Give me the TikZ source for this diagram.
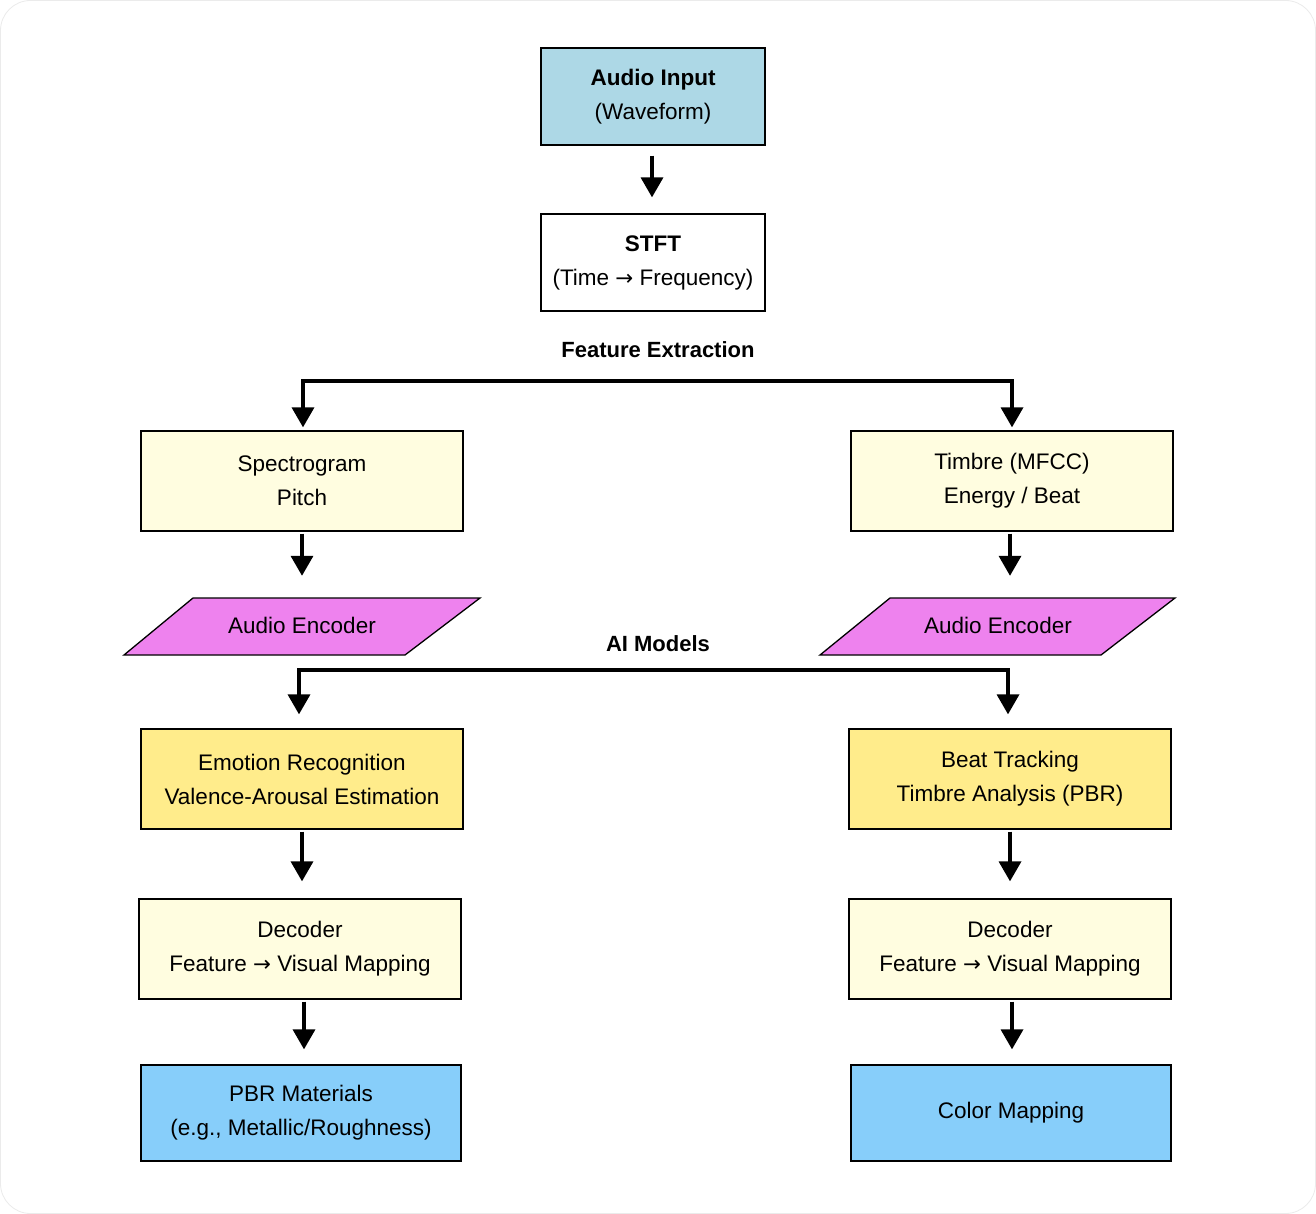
\documentclass[tikz,border=0pt]{standalone}
\usepackage{fontspec}
\setmainfont{Liberation Sans}
\newfontfamily\arrowfont[Scale=0.95]{DejaVu Sans}
\newcommand{\rarr}{{\arrowfont →}}
\usetikzlibrary{arrows.meta}
\definecolor{inblue}{HTML}{ADD8E6}
\definecolor{featyel}{HTML}{FFFDE0}
\definecolor{aiyel}{HTML}{FFEC8B}
\definecolor{encvio}{HTML}{EE82EE}
\definecolor{outblue}{HTML}{87CEFA}
\begin{document}
\begin{tikzpicture}[x=1pt,y=-1pt,
  txt/.style={font=\fontsize{22.5}{34}\selectfont},
  box/.style={txt, draw=black, line width=1.3pt, inner sep=0pt, align=center},
  bigbox/.style={box, minimum width=322pt, minimum height=100pt},
  arr/.style={line width=3.5pt, -{Triangle[width=22pt,length=20pt]}},
  dbl/.style={line width=3.5pt, line join=miter, {Triangle[width=22pt,length=20pt]}-{Triangle[width=22pt,length=20pt]}},
  lbl/.style={font=\fontsize{22}{26}\selectfont\bfseries, inner sep=0pt}]
\useasboundingbox (0,0) rectangle (1316,1214);
\draw[draw=black!8, fill=white, line width=0.8pt, rounded corners=30pt] (0.5,0.5) rectangle (1315.5,1213.5);

% top
\node[box, fill=inblue, minimum width=224pt, minimum height=97pt] (ain) at (653,96.5) {\textbf{Audio Input}\\(Waveform)};
\node[box, fill=white, minimum width=224pt, minimum height=97pt] (stft) at (653,262.5) {\textbf{STFT}\\(Time \rarr{} Frequency)};
\draw[arr, shorten <=10pt, shorten >=16pt] ([xshift=-1pt]ain.south) -- ([xshift=-1pt]stft.north);

\node[lbl] (fxlbl) at (658,350) {Feature Extraction};
\coordinate (fe) at (658,381);

% feature boxes
\node[bigbox, fill=featyel] (spec) at (302,481) {Spectrogram\\Pitch};
\node[bigbox, fill=featyel] (tim) at (1012,481) {Timbre (MFCC)\\Energy / Beat};
\draw[dbl, shorten <=3pt, shorten >=3pt] ([xshift=1pt]spec.north) |- (fe) -| (tim.north);

% encoders
\draw[fill=encvio, line width=1.3pt, line join=miter] (193,598) -- (480,598) -- (405,655) -- (124,655) -- cycle;
\draw[fill=encvio, line width=1.3pt, line join=miter] (890,598) -- (1175,598) -- (1101,655) -- (820,655) -- cycle;
\node[txt, minimum height=57pt, inner sep=0pt] (encL) at (302,625.5) {Audio Encoder};
\node[txt, minimum height=57pt, inner sep=0pt] (encR) at (998,625.5) {Audio Encoder};
\draw[arr, shorten <=2pt, shorten >=21pt] (spec.south) -- (spec.south |- encL.north);
\draw[arr, shorten <=2pt, shorten >=21pt] ([xshift=-2pt]tim.south) -- ([xshift=-2pt]tim.south |- encR.north);

\node[lbl] (ailbl) at (658,644) {AI Models};
\coordinate (ai) at (658,670);

% AI model boxes
\node[bigbox, fill=aiyel] (emo) at (302,779) {Emotion Recognition\\Valence-Arousal Estimation};
\node[bigbox, fill=aiyel] (beat) at (1010,779) {Beat Tracking\\Timbre Analysis (PBR)};
\draw[dbl, shorten <=14pt, shorten >=14pt] ([xshift=-3pt]emo.north) |- (ai) -| ([xshift=-2pt]beat.north);

% decoders
\node[bigbox, fill=featyel] (decL) at (300,949) {Decoder\\Feature \rarr{} Visual Mapping};
\node[bigbox, fill=featyel] (decR) at (1010,949) {Decoder\\Feature \rarr{} Visual Mapping};
\draw[arr, shorten <=2pt, shorten >=17pt] (emo.south) -- (emo.south |- decL.north);
\draw[arr, shorten <=2pt, shorten >=17pt] (beat.south) -- (beat.south |- decR.north);

% outputs
\node[box, fill=outblue, minimum width=320pt, minimum height=96pt] (pbr) at (301,1113) {PBR Materials\\(e.g., Metallic/Roughness)};
\node[box, fill=outblue, minimum width=320pt, minimum height=96pt] (col) at (1011,1113) {Color Mapping};
\draw[arr, shorten <=2pt, shorten >=15pt] ([xshift=4pt]decL.south) -- ([xshift=4pt]decL.south |- pbr.north);
\draw[arr, shorten <=2pt, shorten >=15pt] ([xshift=2pt]decR.south) -- ([xshift=2pt]decR.south |- col.north);
\end{tikzpicture}
\end{document}
